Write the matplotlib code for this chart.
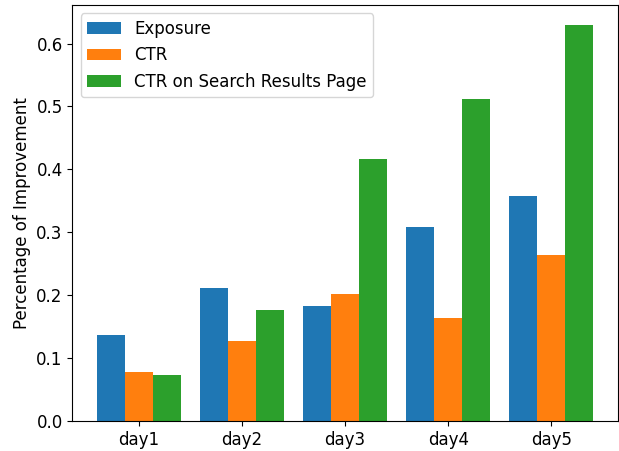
import numpy as np
import matplotlib.pyplot as plt

plt.rcParams['font.size'] = 12

days = ['day1', 'day2', 'day3', 'day4', 'day5']
exposure = [0.136, 0.211, 0.182, 0.308, 0.357]
ctr = [0.078, 0.127, 0.201, 0.163, 0.263]
ctr_search = [0.073, 0.176, 0.416, 0.512, 0.630]

x = np.arange(len(days))
w = 0.27

fig = plt.figure(figsize=(6.19, 4.51), dpi=100)
ax = fig.add_subplot(111)
fig.subplots_adjust(left=0.117, right=0.998, bottom=0.067, top=0.989)

ax.bar(x - w, exposure, w, label='Exposure')
ax.bar(x, ctr, w, label='CTR')
ax.bar(x + w, ctr_search, w, label='CTR on Search Results Page')

ax.set_xticks(x)
ax.set_xticklabels(days)
ax.set_ylabel('Percentage of Improvement')
ax.legend(loc='upper left')

plt.savefig('out.png')
